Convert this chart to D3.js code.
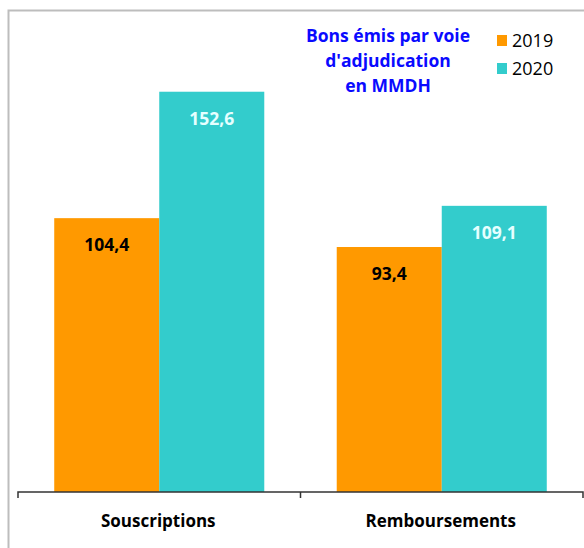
<!DOCTYPE html>
<html lang="fr">
<head>
<meta charset="UTF-8">
<title>Bons émis par voie d'adjudication</title>
<script src="https://cdn.jsdelivr.net/npm/d3@7/dist/d3.min.js"></script>
<style>
  body { margin: 0; background: #fff; }
  text { font-family: "Open Sans", Lato, sans-serif; }
</style>
</head>
<body>
<div id="app"></div>
<script>
var width = 584;
var height = 548;

// données
var categories = ["Souscriptions", "Remboursements"];
var series = ["2019", "2020"];
var values2019 = [104.4, 93.4];
var values2020 = [152.6, 109.1];
var colors = ["#ff9900", "#33cccc"];
var labelColors = ["#000000", "#e6ffff"];
var titleLines = ["Bons émis par voie", "d'adjudication", "en MMDH"];

var baseY = 492;

var svg = d3.select("#app").append("svg")
    .attr("width", width)
    .attr("height", height);

// cadre gris
svg.append("path")
    .attr("d", "M8.5," + height + "V10.5H" + width)
    .attr("fill", "none")
    .attr("stroke", "#bdbdbd")
    .attr("stroke-width", 2);

var x0 = d3.scaleBand().domain(categories).range([18, 583]);
var x1 = d3.scaleBand().domain(series).range([0, x0.bandwidth()]).paddingOuter(0.345);
var y = d3.scaleLinear().domain([0, 100]).range([baseY, baseY - 262.3]);

var data = categories.map(function (c, i) {
    return { cat: c, vals: [values2019[i], values2020[i]] };
});

var groups = svg.selectAll(".grp")
    .data(data)
    .enter().append("g")
    .attr("class", "grp")
    .attr("transform", function (d) { return "translate(" + x0(d.cat) + ",0)"; });

groups.selectAll("rect")
    .data(function (d) { return d.vals.map(function (v, j) { return { s: series[j], v: v, j: j }; }); })
    .enter().append("rect")
    .attr("x", function (d) { return x1(d.s); })
    .attr("y", function (d) { return y(d.v); })
    .attr("width", x1.bandwidth())
    .attr("height", function (d) { return baseY - y(d.v); })
    .attr("fill", function (d) { return colors[d.j]; });

groups.selectAll(".lbl")
    .data(function (d) { return d.vals.map(function (v, j) { return { s: series[j], v: v, j: j }; }); })
    .enter().append("text")
    .attr("class", "lbl")
    .attr("x", function (d) { return x1(d.s) + x1.bandwidth() / 2; })
    .attr("y", function (d) { return y(d.v) + 33; })
    .attr("text-anchor", "middle")
    .attr("font-size", "17.5px")
    .attr("font-weight", "bold")
    .attr("fill", function (d) { return labelColors[d.j]; })
    .text(function (d) { return d3.format(".1f")(d.v).replace(".", ","); });

// axe
var axis = svg.append("g")
    .attr("transform", "translate(0," + baseY + ")")
    .call(d3.axisBottom(x0).tickSize(0).tickFormat(""));
axis.select(".domain").remove();
axis.append("path")
    .attr("d", "M18,6V0H583V6M300.5,0V6")
    .attr("fill", "none")
    .attr("stroke", "#333")
    .attr("stroke-width", 1.5);

svg.selectAll(".cat")
    .data(categories)
    .enter().append("text")
    .attr("class", "cat")
    .attr("x", function (d) { return x0(d) + x0.bandwidth() / 2 - 1; })
    .attr("y", 527)
    .attr("text-anchor", "middle")
    .attr("font-size", "17px")
    .attr("font-weight", "bold")
    .attr("fill", "#000")
    .text(function (d) { return d; });

// titre
svg.selectAll(".title")
    .data(titleLines)
    .enter().append("text")
    .attr("class", "title")
    .attr("x", 388)
    .attr("y", function (d, i) { return 42 + i * 24.8; })
    .attr("text-anchor", "middle")
    .attr("font-size", "17.5px")
    .attr("font-weight", "bold")
    .attr("fill", "#0a0aff")
    .text(function (d) { return d; });

// légende
var leg = svg.selectAll(".leg")
    .data(series)
    .enter().append("g")
    .attr("class", "leg")
    .attr("transform", function (d, i) { return "translate(497," + (35 + i * 28) + ")"; });
leg.append("rect")
    .attr("width", 10)
    .attr("height", 11)
    .attr("fill", function (d, i) { return colors[i]; });
leg.append("text")
    .attr("x", 15)
    .attr("y", 12)
    .attr("font-size", "18px")
    .attr("fill", "#000")
    .text(function (d) { return d; });
</script>
</body>
</html>
